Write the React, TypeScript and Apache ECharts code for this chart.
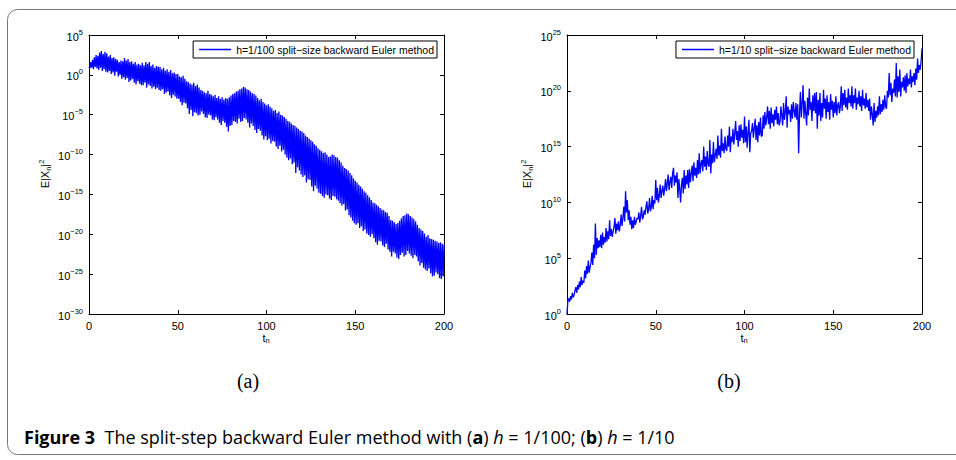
import React, { useEffect, useRef } from "react";
import * as echarts from "echarts";

// Sample times t_n = 0, 0.5, 1, ..., 200 (index * STEP).
// Values are log10 of E|X_n|^2.
const STEP = 0.5;

// (a) h = 1/100
const LOG_A: number[] = [
  1.0, 0.8, 1.6, 0.9, 1.9, 0.7, 2.2, 1.0, 2.5, 0.8, 2.4, 0.6, 2.8, 0.9, 3.0, 0.5, 2.6, 0.7, 2.9, 0.4,
  2.7, 0.3, 2.3, 0.5, 2.5, 0.1, 2.1, 0.3, 2.2, -0.1, 2.0, 0.4, 1.9, -0.2, 1.6, 0.0, 1.8, -0.5, 1.7, -0.3,
  2.1, -0.6, 1.8, -0.4, 2.0, -0.9, 1.6, -0.7, 1.7, -0.5, 1.4, -1.0, 1.6, -1.2, 1.3, -0.8, 1.4, -1.1, 1.2, -1.3,
  1.5, -1.3, 1.2, -1.0, 1.6, -1.6, 1.4, -1.2, 1.6, -1.4, 1.1, -1.7, 1.3, -1.5, 0.9, -1.8, 1.1, -1.6, 1.0, -1.9,
  1.0, -2.0, 0.7, -1.8, 0.9, -2.4, 0.5, -2.2, 0.7, -2.1, 0.4, -2.6, 0.6, -2.9, 0.2, -2.5, 0.3, -2.7, 0.1, -3.0,
  0.1, -3.0, -0.2, -3.4, -0.3, -3.8, -0.1, -3.5, -0.5, -3.6, -0.8, -4.2, -0.9, -4.9, -1.1, -4.4, -1.2, -5.2, -1.0, -4.7,
  -1.4, -4.8, -1.2, -5.1, -1.6, -5.0, -1.9, -4.6, -2.0, -4.9, -2.2, -5.3, -2.3, -5.4, -2.0, -5.0, -2.4, -5.1, -2.5, -5.6,
  -2.7, -5.7, -2.5, -5.3, -2.9, -5.6, -2.7, -6.0, -3.0, -6.3, -2.8, -5.8, -3.1, -6.0, -2.9, -6.5, -3.0, -7.1, -2.8, -6.4,
  -2.6, -6.3, -2.4, -5.8, -2.3, -5.9, -2.1, -6.1, -2.0, -5.5, -1.8, -5.9, -1.7, -5.8, -1.5, -5.4, -1.6, -5.6, -1.8, -6.0,
  -1.9, -6.6, -2.1, -6.1, -2.3, -6.4, -2.4, -6.9, -2.6, -7.3, -2.9, -6.8, -3.2, -7.0, -3.0, -7.6, -3.4, -8.1, -3.6, -7.7,
  -3.8, -8.2, -3.7, -8.0, -4.0, -8.6, -4.2, -8.3, -4.5, -8.4, -4.4, -9.0, -4.8, -9.3, -4.6, -8.9, -5.0, -9.6, -5.1, -9.4,
  -5.3, -10.0, -5.5, -10.4, -5.8, -10.7, -5.9, -10.5, -6.1, -11.2, -6.3, -11.0, -6.4, -12.3, -6.6, -11.6, -6.8, -12.0, -7.0, -12.5,
  -7.1, -12.8, -7.3, -12.6, -7.6, -13.5, -7.8, -13.1, -8.0, -13.2, -8.2, -14.0, -8.4, -14.6, -8.7, -13.9, -8.9, -14.3, -9.2, -14.8,
  -9.4, -14.9, -9.6, -15.2, -9.8, -15.4, -9.7, -15.0, -10.0, -15.1, -10.3, -15.5, -10.2, -15.7, -10.0, -15.2, -10.1, -15.3, -10.3, -15.6,
  -10.4, -15.8, -10.7, -16.1, -11.0, -16.4, -11.4, -16.2, -11.7, -17.0, -11.8, -16.9, -12.0, -17.6, -12.3, -17.9, -12.6, -18.3, -13.0, -18.6,
  -13.3, -18.8, -13.5, -18.6, -13.8, -19.2, -14.0, -19.0, -14.3, -19.6, -14.6, -19.4, -14.8, -19.9, -15.1, -20.1, -15.4, -20.3, -15.7, -20.0,
  -16.0, -20.5, -16.1, -21.0, -16.3, -21.3, -16.5, -20.8, -16.7, -20.9, -16.9, -21.4, -17.0, -21.6, -17.2, -21.2, -17.3, -21.9, -17.7, -22.2,
  -18.2, -22.8, -18.3, -22.2, -18.5, -22.4, -18.7, -22.9, -18.6, -23.1, -18.3, -22.6, -18.0, -22.3, -17.7, -22.8, -17.6, -22.6, -17.4, -22.1,
  -17.5, -22.4, -17.7, -22.7, -17.9, -23.0, -18.1, -22.6, -18.4, -22.8, -18.8, -23.4, -19.2, -23.9, -19.4, -23.6, -19.6, -24.2, -19.9, -24.4,
  -20.3, -24.6, -20.1, -24.3, -20.5, -24.9, -20.6, -25.3, -20.7, -25.2, -20.8, -24.8, -20.9, -25.0, -21.1, -25.5, -21.0, -25.6, -21.2, -25.3,
  -21.3,
];

// (b) h = 1/10
const LOG_B: number[] = [
  0.0, 1.2, 1.4, 1.1, 1.6, 1.3, 1.9, 1.5, 1.7, 2.1, 2.4, 1.9, 2.6, 2.2, 2.9, 2.4, 3.3, 2.6, 3.0, 2.8,
  3.9, 3.2, 4.3, 3.6, 4.8, 3.7, 4.2, 4.6, 5.5, 4.4, 6.2, 5.0, 8.1, 5.3, 6.8, 5.9, 6.6, 6.0, 7.1, 5.9,
  7.3, 6.2, 6.9, 6.4, 7.7, 6.5, 7.4, 6.7, 8.4, 7.0, 7.6, 6.9, 7.4, 7.8, 8.6, 7.2, 8.1, 7.5, 8.3, 7.4,
  8.0, 8.9, 7.9, 8.6, 9.6, 8.3, 11.0, 9.1, 10.2, 8.4, 9.3, 8.0, 8.7, 7.6, 8.4, 7.7, 8.7, 8.0, 8.3, 8.6,
  8.5, 9.1, 8.2, 8.8, 9.6, 8.5, 8.7, 9.3, 8.9, 9.6, 10.1, 9.0, 9.4, 10.4, 9.2, 9.6, 10.6, 9.4, 10.2, 9.9,
  12.0, 10.2, 11.3, 10.0, 10.6, 11.6, 10.4, 11.0, 11.5, 10.6, 11.2, 12.1, 11.0, 11.7, 12.5, 11.1, 11.8, 12.3, 11.3, 12.6,
  13.1, 11.5, 12.4, 11.8, 12.7, 10.4, 12.1, 11.2, 10.0, 11.6, 12.2, 10.8, 12.9, 11.2, 12.4, 11.6, 12.9, 11.3, 13.0, 11.8,
  12.6, 13.3, 11.9, 13.6, 12.4, 13.1, 12.2, 13.8, 12.5, 14.4, 12.6, 13.5, 13.8, 12.8, 15.0, 13.2, 14.1, 12.9, 14.6, 13.4,
  13.2, 15.6, 12.6, 14.3, 13.5, 15.4, 13.6, 14.2, 14.8, 13.9, 16.0, 14.2, 15.1, 14.0, 16.6, 14.6, 15.3, 14.4, 15.9, 14.8,
  14.6, 16.0, 15.0, 16.8, 14.5, 15.9, 15.4, 16.6, 15.2, 16.2, 17.3, 15.6, 16.4, 15.0, 16.9, 15.5, 17.0, 15.8, 16.5, 15.3,
  17.7, 15.4, 16.8, 14.9, 16.3, 17.4, 14.5, 16.2, 16.4, 17.1, 15.8, 16.6, 17.5, 15.6, 16.9, 15.4, 17.2, 16.0, 17.6, 15.9,
  16.0, 17.8, 16.6, 18.1, 16.9, 17.6, 18.6, 17.0, 18.2, 16.6, 18.5, 17.1, 17.9, 16.8, 18.3, 17.4, 18.6, 17.0, 18.0, 16.9,
  17.2, 18.6, 17.8, 16.9, 18.9, 17.4, 18.1, 19.5, 16.7, 18.6, 17.9, 18.3, 17.2, 18.8, 17.5, 19.0, 18.2, 17.6, 18.9, 17.4,
  18.8, 14.4, 18.0, 19.9, 17.6, 18.9, 20.5, 17.5, 19.1, 18.0, 16.9, 19.4, 17.8, 20.2, 18.3, 19.0, 17.3, 19.6, 18.2, 19.8,
  18.0, 19.9, 16.6, 19.2, 17.8, 19.8, 17.3, 18.9, 17.6, 20.1, 18.4, 19.3, 17.5, 19.6, 18.1, 19.0, 17.4, 19.7, 18.3, 19.1,
  17.6, 19.0, 18.0, 19.5, 17.8, 18.7, 19.0, 18.0, 18.6, 20.4, 18.2, 19.8, 18.7, 20.1, 18.5, 19.4, 18.3, 20.2, 18.9, 19.6,
  18.6, 20.4, 18.4, 19.6, 18.9, 20.2, 18.3, 19.4, 18.8, 20.0, 18.6, 19.5, 18.2, 20.1, 18.7, 19.3, 18.4, 19.8, 18.5, 19.2,
  18.2, 19.3, 17.4, 18.6, 17.9, 16.9, 18.9, 17.2, 18.2, 17.6, 18.6, 17.8, 19.5, 17.9, 18.8, 18.1, 19.2, 18.3, 19.6, 18.6,
  18.4, 20.0, 19.4, 21.6, 19.6, 20.7, 19.0, 20.2, 19.8, 21.0, 19.5, 22.5, 19.4, 21.3, 19.9, 21.9, 19.5, 20.8, 20.3, 21.2,
  20.0, 21.4, 19.8, 21.6, 20.4, 21.1, 20.6, 21.9, 20.3, 21.3, 20.8, 21.6, 20.5, 22.0, 21.0, 22.9, 21.6, 22.3, 21.9, 22.6,
  23.8,
];

const NAME_A = "h=1/100 split\u2212size backward Euler method";
const NAME_B = "h=1/10 split\u2212size backward Euler method";

const toPairs = (logs: number[]) => logs.map((e, i) => [i * STEP, e]);

const SANS = "'Liberation Sans', Arial, sans-serif";
const CAP = "'Open Sans', 'Noto Sans', sans-serif";

function yLabel(v: number) {
  const e = Math.round(v);
  const s = e < 0 ? "\u2212" + Math.abs(e) : String(e);
  return `{b|10}{s|${s}}`;
}

const labelRich = {
  b: { fontSize: 11, fontFamily: SANS, color: "#000", verticalAlign: "bottom", lineHeight: 14 },
  s: { fontSize: 7.5, fontFamily: SANS, color: "#000", verticalAlign: "top", lineHeight: 14, padding: [0, 0, 6, 0] },
};

function axesFor(grid: number, yMin: number, yMax: number) {
  const line = { show: true, onZero: false, lineStyle: { color: "#000", width: 1 } };
  const tick = { show: true, inside: true, length: 4, lineStyle: { color: "#000" } };
  const xs = [
    {
      gridIndex: grid, type: "value", min: 0, max: 200, interval: 50, position: "bottom",
      axisLine: line, axisTick: tick,
      axisLabel: { fontSize: 11, fontFamily: SANS, color: "#000", margin: 6 },
      splitLine: { show: false },
    },
    {
      gridIndex: grid, type: "value", min: 0, max: 200, interval: 50, position: "top",
      axisLine: line, axisTick: tick, axisLabel: { show: false }, splitLine: { show: false },
    },
  ];
  const ys = [
    {
      gridIndex: grid, type: "value", min: yMin, max: yMax, interval: 5, position: "left",
      axisLine: line, axisTick: tick,
      axisLabel: { formatter: yLabel, rich: labelRich, margin: 6 },
      splitLine: { show: false },
    },
    {
      gridIndex: grid, type: "value", min: yMin, max: yMax, interval: 5, position: "right",
      axisLine: line, axisTick: tick, axisLabel: { show: false }, splitLine: { show: false },
    },
  ];
  return { xs, ys };
}

export default function App() {
  const ref = useRef<HTMLDivElement>(null);
  useEffect(() => {
    if (!ref.current) return;
    const chart = echarts.init(ref.current, undefined, { renderer: "svg" });
    const a = axesFor(0, -30, 5);
    const b = axesFor(1, 0, 25);
    const nameRich = {
      m: { fontSize: 11, fontFamily: SANS, color: "#000" },
      sub: { fontSize: 7.5, fontFamily: SANS, color: "#000", verticalAlign: "bottom", padding: [5, 0, 0, 0] },
      sup: { fontSize: 7.5, fontFamily: SANS, color: "#000", verticalAlign: "top", padding: [0, 0, 7, 0] },
    };
    const yName = (x: number) => ({
      type: "text", x, y: 174, rotation: Math.PI / 2,
      style: { text: "{m|E|X}{sub|n}{m||}{sup|2}", rich: nameRich, align: "center", verticalAlign: "middle" },
    });
    const xName = (x: number) => ({
      type: "text", x, y: 338,
      style: { text: "{m|t}{sub|n}", rich: nameRich, align: "center", verticalAlign: "middle" },
    });
    const legendBase = {
      top: 41, orient: "horizontal", icon: "rect",
      backgroundColor: "#fff", borderColor: "#000", borderWidth: 1,
      padding: [3, 3, 3, 6], itemWidth: 32, itemHeight: 1.5, itemGap: 4,
      textStyle: { fontSize: 10.5, fontFamily: SANS, color: "#000" },
    };
    const option: any = {
      animation: false,
      backgroundColor: "#fff",
      grid: [
        { left: 89, top: 35, width: 355, height: 279, show: false },
        { left: 567, top: 35, width: 355, height: 279, show: false },
      ],
      xAxis: [a.xs[0], a.xs[1], b.xs[0], b.xs[1]],
      yAxis: [a.ys[0], a.ys[1], b.ys[0], b.ys[1]],
      legend: [
        { ...legendBase, data: [NAME_A], right: 519 },
        { ...legendBase, data: [NAME_B], right: 42 },
      ],
      series: [
        {
          name: NAME_A, type: "line", xAxisIndex: 0, yAxisIndex: 0, data: toPairs(LOG_A),
          symbol: "none", lineStyle: { color: "#0000ff", width: 1.3 }, itemStyle: { color: "#0000ff" },
        },
        {
          name: NAME_B, type: "line", xAxisIndex: 2, yAxisIndex: 2, data: toPairs(LOG_B),
          symbol: "none", lineStyle: { color: "#0000ff", width: 1.3 }, itemStyle: { color: "#0000ff" },
        },
      ],
      graphic: [
        {
          type: "rect", silent: true, z: -1,
          shape: { x: 7.5, y: 9.5, width: 1000, height: 445, r: 10 },
          style: { fill: "none", stroke: "#777", lineWidth: 1 },
        },
        yName(45), yName(527), xName(266), xName(744),
        {
          type: "text", x: 248, y: 381,
          style: { text: "(a)", font: "20px 'Liberation Serif', 'DejaVu Serif', serif", fill: "#000", align: "center", verticalAlign: "middle" },
        },
        {
          type: "text", x: 729, y: 381,
          style: { text: "(b)", font: "20px 'Liberation Serif', 'DejaVu Serif', serif", fill: "#000", align: "center", verticalAlign: "middle" },
        },
        {
          type: "text", x: 24, y: 437,
          style: {
            text: "{fb|Figure 3}{r|  The split-step backward Euler method with (}{bb|a}{r|) }{i|h}{r| = 1/100; (}{bb|b}{r|) }{i|h}{r| = 1/10}",
            verticalAlign: "middle",
            rich: {
              fb: { fontSize: 18, fontWeight: "bold", fontFamily: CAP, color: "#000" },
              bb: { fontSize: 18, fontWeight: "bold", fontFamily: CAP, color: "#000" },
              r: { fontSize: 18, fontFamily: CAP, color: "#000" },
              i: { fontSize: 18, fontStyle: "italic", fontFamily: CAP, color: "#000" },
            },
          },
        },
      ],
    };
    chart.setOption(option);
    return () => chart.dispose();
  }, []);
  return (
    <div
      ref={ref}
      style={{ position: "fixed", left: 0, top: 0, width: 956, height: 460, background: "#fff" }}
    />
  );
}
